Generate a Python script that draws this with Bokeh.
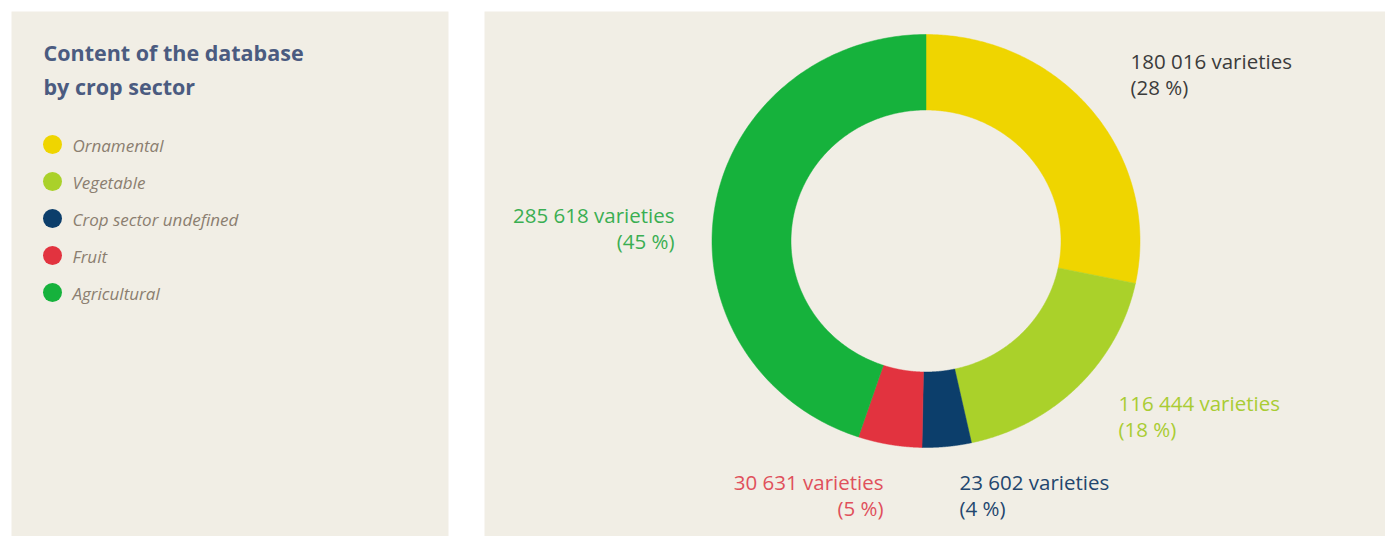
import numpy as np
from bokeh.plotting import figure
from bokeh.models import Range1d, ColumnDataSource
from bokeh.core.properties import value
from bokeh.embed import file_html
from bokeh.resources import INLINE

# ---- data ----
categories = ["Ornamental", "Vegetable", "Crop sector undefined", "Fruit", "Agricultural"]
varieties = [180016, 116444, 23602, 30631, 285618]
colors = ["#efd500", "#aad12a", "#0c3e6b", "#e2333f", "#16b23c"]
label_colors = ["#3b3b3b", "#a9cc33", "#23466e", "#e0505b", "#3aae52"]
title_lines = ["Content of the database", "by crop sector"]

W, H = 1385, 536
BG = "#f1eee5"

p = figure(width=W, height=H, x_range=Range1d(0, W), y_range=Range1d(0, H),
           output_backend="svg", toolbar_location=None, min_border=0,
           x_axis_location=None, y_axis_location=None,
           background_fill_color="white", border_fill_color="white",
           outline_line_color=None)
p.grid.visible = False

# panels
p.quad(left=[11, 484], right=[448, W], bottom=[0, 0], top=[525, 525],
       fill_color=BG, line_color=None)

# donut (clockwise from 12 o'clock)
total = float(sum(varieties))
fracs = [v / total for v in varieties]
cum = np.concatenate([[0], np.cumsum(fracs)])
cx, cy = 925.5, H - 240.5
rxo, ryo = 214.0, 206.5
rxi, ryi = 135.0, 131.0
xs, ys = [], []
for i in range(len(varieties)):
    a0, a1 = cum[i] * 2 * np.pi, cum[i + 1] * 2 * np.pi
    t = np.linspace(a0, a1, 200)
    ox = cx + rxo * np.sin(t); oy = cy + ryo * np.cos(t)
    ix = cx + rxi * np.sin(t[::-1]); iy = cy + ryi * np.cos(t[::-1])
    xs.append(list(np.concatenate([ox, ix])))
    ys.append(list(np.concatenate([oy, iy])))
p.patches(xs=xs, ys=ys, fill_color=colors, line_color=colors, line_width=0.5)

# title
p.text(x=[43, 43], y=[H - 52, H - 86], text=title_lines,
       text_font=value("Open Sans"), text_font_style="bold",
       text_font_size="21.5px", text_color="#4b5b80",
       text_baseline="middle", text_align="left")

# legend
ly = [H - 144, H - 181, H - 218, H - 255, H - 292]
p.scatter(x=[52] * 5, y=ly, size=19, marker="circle",
          fill_color=colors, line_color=None)
p.text(x=[72] * 5, y=[v - 1 for v in ly], text=categories,
       text_font=value("Open Sans"), text_font_style="italic",
       text_font_size="17px", text_color="#8b7e70",
       text_baseline="middle", text_align="left")

# value labels
pct = [int(round(v / total * 100)) for v in varieties]
line1 = [f"{v:,}".replace(",", " ") + " varieties" for v in varieties]
line2 = [f"({q} %)" for q in pct]
lx = [1130, 1118, 959, 883, 674]
lyc = [60, 402, 481, 481, 214]
la = ["left", "left", "left", "right", "right"]
src = ColumnDataSource(dict(x=lx, y1=[H - b for b in lyc], y2=[H - b - 26 for b in lyc],
                            t1=line1, t2=line2, c=label_colors, a=la))
for yk, tk in (("y1", "t1"), ("y2", "t2")):
    p.text(x="x", y=yk, text=tk, source=src, text_color="c", text_align="a",
           text_font=value("Open Sans"), text_font_size="20.5px",
           text_baseline="middle")

open("out.html", "w").write(file_html(p, INLINE))
